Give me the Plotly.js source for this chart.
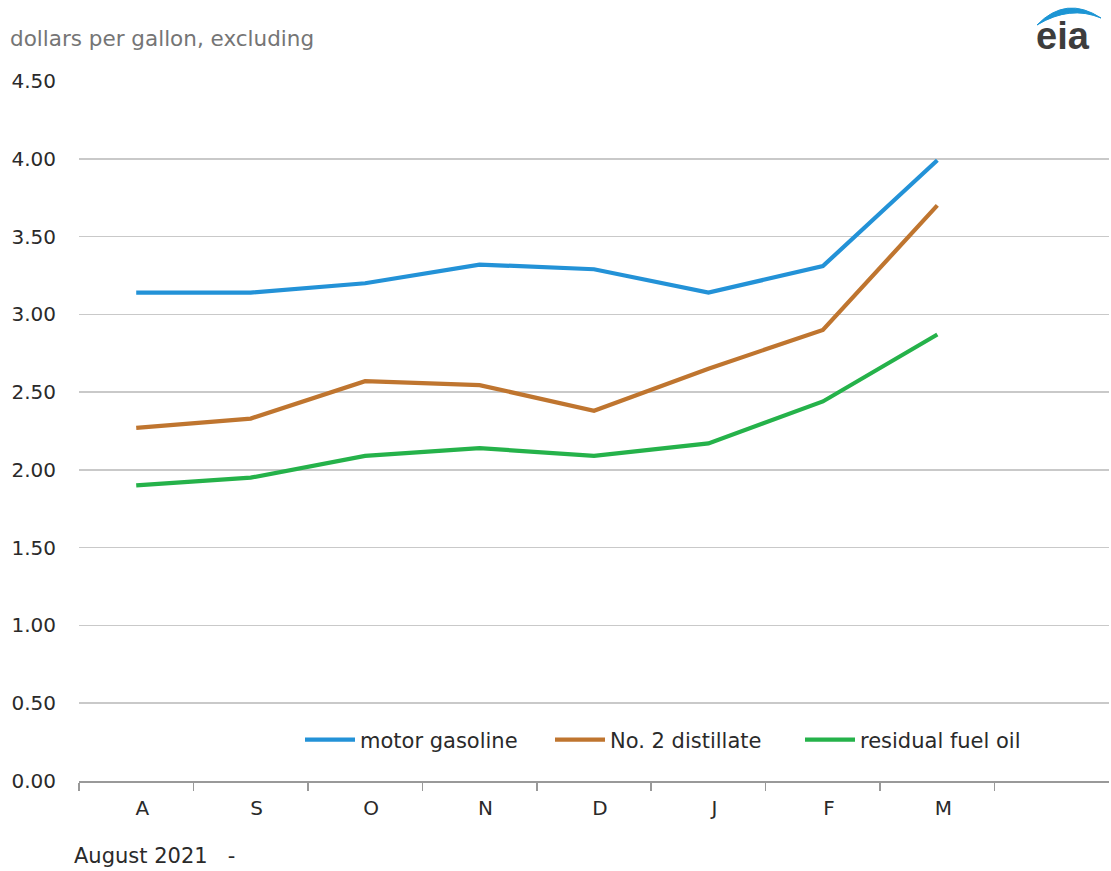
<!DOCTYPE html>
<html>
<head>
<meta charset="utf-8">
<script src="https://cdn.plot.ly/plotly-3.0.1.min.js"></script>
<style>
  html, body { margin: 0; padding: 0; background: #fff; }
  #chart { width: 1111px; height: 871px; }
</style>
</head>
<body>
<div id="chart"></div>
<script>
const months = ['A', 'S', 'O', 'N', 'D', 'J', 'F', 'M'];
const motorGasoline = [3.14, 3.14, 3.20, 3.32, 3.29, 3.14, 3.31, 3.99];
const no2Distillate = [2.27, 2.33, 2.57, 2.545, 2.38, 2.65, 2.90, 3.70];
const residualFuelOil = [1.90, 1.95, 2.09, 2.14, 2.09, 2.17, 2.44, 2.87];
const seriesNames = ['motor gasoline', 'No. 2 distillate', 'residual fuel oil'];
const yTicks = [0, 0.5, 1, 1.5, 2, 2.5, 3, 3.5, 4, 4.5];

const FONT = 'DejaVu Sans, sans-serif';
const colors = ['#2392d7', '#bf752f', '#25b24a'];
const values = [motorGasoline, no2Distillate, residualFuelOil];

const traces = values.map((v, i) => ({
  type: 'scatter',
  mode: 'lines',
  x: months,
  y: v,
  name: seriesNames[i],
  line: { color: colors[i], width: 4.2 },
  hoverinfo: 'x+y'
}));

const px = x => (x - 79) / 1030;
const py = y => (781 - y) / 700;

const layout = {
  width: 1111,
  height: 871,
  margin: { l: 79, r: 2, t: 81, b: 90 },
  paper_bgcolor: '#ffffff',
  plot_bgcolor: '#ffffff',
  font: { family: FONT, size: 20, color: '#2a2a2a' },
  showlegend: true,
  legend: {
    orientation: 'h',
    x: px(300), xanchor: 'left',
    y: py(740), yanchor: 'middle',
    bgcolor: 'rgba(0,0,0,0)',
    font: { family: FONT, size: 21, color: '#2a2a2a' },
    itemwidth: 50,
    entrywidth: 185,
    entrywidthmode: 'pixels',
    traceorder: 'normal'
  },
  xaxis: {
    type: 'category',
    categoryorder: 'array',
    categoryarray: months,
    range: [-0.5, 8.5],
    tickson: 'boundaries',
    ticks: 'outside',
    ticklen: 8,
    tickwidth: 1.5,
    tickcolor: '#999',
    showline: true,
    linecolor: '#999',
    linewidth: 1.5,
    showgrid: false,
    zeroline: false,
    ticklabelshift: 6,
    ticklabelstandoff: 8,
    tickfont: { family: FONT, size: 20, color: '#2a2a2a' },
    fixedrange: true
  },
  yaxis: {
    range: [0, 4.5],
    tickvals: yTicks,
    ticktext: yTicks.map(v => v.toFixed(2)),
    showgrid: true,
    gridcolor: '#c9c9c9',
    gridwidth: 1.5,
    zeroline: false,
    showline: false,
    ticks: '',
    ticklabelstandoff: 22,
    tickfont: { family: FONT, size: 20, color: '#2a2a2a' },
    fixedrange: true
  },
  annotations: [
    {
      text: 'dollars per gallon, excluding',
      xref: 'paper', yref: 'paper',
      x: px(8), xanchor: 'left',
      y: py(38), yanchor: 'middle',
      showarrow: false,
      font: { family: FONT, size: 21.5, color: '#757575' }
    },
    {
      text: 'August 2021 \u00a0 -',
      xref: 'paper', yref: 'paper',
      x: px(72), xanchor: 'left',
      y: py(856), yanchor: 'middle',
      showarrow: false,
      font: { family: FONT, size: 21, color: '#2a2a2a' }
    },
    {
      text: '<b>eia</b>',
      xref: 'paper', yref: 'paper',
      x: px(1063), xanchor: 'center',
      y: py(36), yanchor: 'middle',
      showarrow: false,
      font: { family: 'Liberation Sans, Arial, sans-serif', size: 38, color: '#3d3d3d' }
    }
  ],
  shapes: [
    {
      type: 'path',
      xref: 'paper', yref: 'paper',
      path: 'M ' + px(1037) + ',' + py(25) +
        ' Q ' + px(1066) + ',' + py(-5) + ' ' + px(1101) + ',' + py(18) +
        ' Q ' + px(1070) + ',' + py(5) + ' ' + px(1037) + ',' + py(25) + ' Z',
      fillcolor: '#1c95d4',
      line: { color: '#1c95d4', width: 1 }
    }
  ]
};

Plotly.newPlot('chart', traces, layout, { displayModeBar: false, staticPlot: true });
</script>
</body>
</html>
